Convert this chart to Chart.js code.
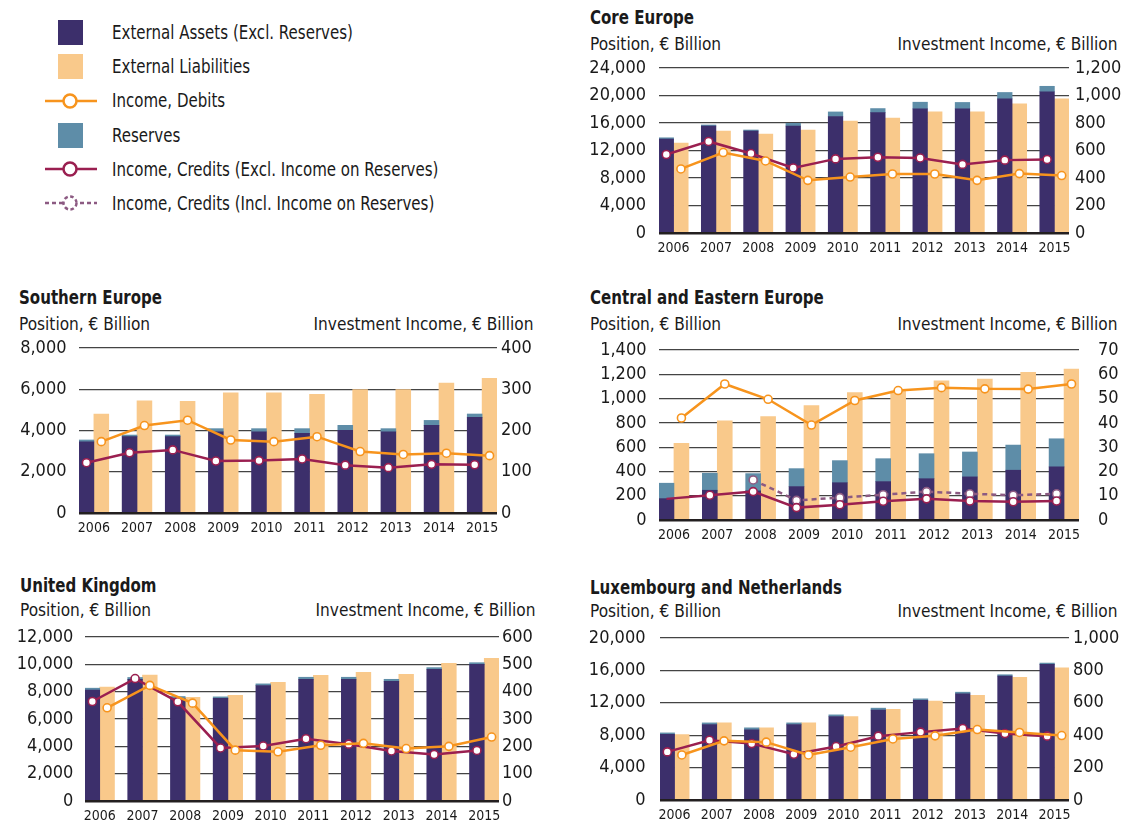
<!DOCTYPE html>
<html><head><meta charset="utf-8">
<script src="https://cdn.jsdelivr.net/npm/chart.js@4.4.1/dist/chart.umd.min.js"></script>
<style>
html,body{margin:0;padding:0;background:#fff;width:1122px;height:821px;overflow:hidden;}
body{position:relative;font-family:"DejaVu Sans Condensed","DejaVu Sans",sans-serif;color:#1a1a1a;}
.abs{position:absolute;white-space:nowrap;line-height:1;}
.title{font-weight:bold;font-size:19px;transform:scaleX(0.88);transform-origin:0 0;}
.sub{font-size:18px;transform:scaleX(0.95);transform-origin:0 0;}
.subr{font-size:18px;transform:scaleX(0.95);transform-origin:100% 0;}
.leg{font-size:19px;transform:scaleX(0.88);transform-origin:0 0;}
.sw{position:absolute;width:25px;height:25px;}
canvas{position:absolute;}
svg{position:absolute;overflow:visible;}
</style></head><body>

<div id="legend"></div>

<script>
// ---------- data ----------
const years = [2006, 2007, 2008, 2009, 2010, 2011, 2012, 2013, 2014, 2015];

// Core Europe
const coreAssets      = [13650, 15560, 14830, 15560, 16930, 17510, 18050, 18060, 19520, 20540];
const coreReserves    = [200, 150, 150, 390, 680, 590, 975, 930, 920, 800];
const coreLiabilities = [13070, 14830, 14390, 14980, 16290, 16730, 17610, 17610, 18790, 19520];
const coreDebits      = [466, 585, 524, 383, 407, 429, 429, 383, 432, 418];
const coreCredits     = [571, 666, 578, 473, 539, 551, 546, 499, 530, 535];

// Southern Europe
const southAssets      = [3450, 3700, 3700, 3940, 3940, 3860, 4010, 3940, 4250, 4640];
const southReserves    = [90, 80, 80, 150, 150, 230, 240, 150, 240, 160];
const southLiabilities = [4800, 5435, 5420, 5830, 5830, 5750, 5990, 5990, 6300, 6525];
const southDebits      = [173, 212, 225, 177, 173, 185, 149, 142, 145, 139];
const southCredits     = [122, 146, 153, 126, 127, 131, 116, 110, 118, 117];

// Central and Eastern Europe
const ceeAssets       = [176, 245, 240, 275, 307, 316, 340, 355, 410, 437];
const ceeReserves     = [127, 140, 142, 148, 182, 189, 206, 205, 207, 232];
const ceeLiabilities  = [632, 816, 851, 942, 1049, 1062, 1147, 1160, 1217, 1242];
const ceeDebits       = [42.0, 56.0, 49.7, 39.1, 49.2, 53.3, 54.5, 54.0, 53.9, 56.0];
const ceeCredits      = [8.7, 10.2, 11.7, 5.1, 6.3, 7.7, 8.7, 7.8, 7.5, 7.8];
const ceeCreditsIncl  = [null, null, 16.5, 8.1, 9.2, 10.4, 11.7, 10.8, 10.2, 10.8];

// United Kingdom
const ukAssets      = [8120, 8900, 7500, 7520, 8450, 8910, 8910, 8760, 9640, 10000];
const ukReserves    = [135, 140, 145, 100, 120, 145, 145, 145, 120, 120];
const ukLiabilities = [8330, 9210, 7590, 7740, 8690, 9200, 9420, 9270, 10080, 10440];
const ukDebits      = [341, 423, 358, 186, 180, 204, 211, 192, 200, 234];
const ukCredits     = [364, 448, 363, 194, 201, 228, 208, 183, 170, 185];

// Luxembourg and Netherlands
const luxAssets      = [8120, 9320, 8660, 9320, 10310, 11090, 12290, 13110, 15300, 16740];
const luxReserves    = [165, 200, 250, 200, 200, 250, 200, 200, 165, 165];
const luxLiabilities = [8080, 9530, 8910, 9530, 10310, 11180, 12210, 12910, 15140, 16330];
const luxDebits      = [278, 365, 357, 278, 326, 377, 396, 435, 417, 398];
const luxCredits     = [297, 369, 348, 282, 330, 394, 419, 441, 410, 394];

const POS_LABEL = 'Position, € Billion';
const INC_LABEL = 'Investment Income, € Billion';

// ---------- style ----------
const C = {assets:'#3C2F6B', liab:'#F9C98B', res:'#5E8DA8', debit:'#F7941D', credit:'#9A1F50', incl:'#8C5A82'};
const FONT = "'DejaVu Sans Condensed','DejaVu Sans',sans-serif";
Chart.defaults.font.family = FONT;
Chart.defaults.color = '#1a1a1a';

// ---------- legend ----------
const legendItems = [
  {kind:'box', color:C.assets, text:'External Assets (Excl. Reserves)'},
  {kind:'box', color:C.liab, text:'External Liabilities'},
  {kind:'line', color:C.debit, text:'Income, Debits'},
  {kind:'box', color:C.res, text:'Reserves'},
  {kind:'line', color:C.credit, text:'Income, Credits (Excl. Income on Reserves)'},
  {kind:'dash', color:C.incl, text:'Income, Credits (Incl. Income on Reserves)'}
];
const legendY = [32.3, 66.3, 100.7, 135.3, 169, 203.3];
const leg = document.getElementById('legend');
legendItems.forEach((it, i) => {
  const cy = legendY[i];
  if (it.kind === 'box') {
    const d = document.createElement('div');
    d.className = 'sw';
    d.style.left = '58px'; d.style.top = (cy - 12.5) + 'px'; d.style.background = it.color;
    leg.appendChild(d);
  } else {
    const dash = it.kind === 'dash' ? 'stroke-dasharray="4 3"' : '';
    const s = document.createElementNS('http://www.w3.org/2000/svg', 'svg');
    s.setAttribute('width', '52'); s.setAttribute('height', '20');
    s.style.left = '45px'; s.style.top = (cy - 10) + 'px';
    s.innerHTML = `<line x1="0" y1="10" x2="52" y2="10" stroke="${it.color}" stroke-width="2.5" ${dash}/>` +
      `<circle cx="25" cy="10" r="6.5" fill="#fff" stroke="${it.color}" stroke-width="2.5" ${it.kind==='dash'?'stroke-dasharray="3.5 2.5"':''}/>`;
    leg.appendChild(s);
  }
  const t = document.createElement('div');
  t.className = 'abs leg';
  t.style.left = '112px'; t.style.top = (cy - 9.5) + 'px';
  t.textContent = it.text;
  leg.appendChild(t);
});

// ---------- panels ----------
const HALF = 0.345, SHIFT = 0.1725;
function xy(vals) { return years.map((yr, i) => ({x: yr, y: vals[i]})); }
function fmt(v) { return Number(v).toLocaleString('en-US'); }

function addText(cls, text, left, top, right) {
  const d = document.createElement('div');
  d.className = 'abs ' + cls;
  d.textContent = text;
  if (right !== undefined) d.style.right = (1122 - right) + 'px'; else d.style.left = left + 'px';
  d.style.top = top + 'px';
  document.body.appendChild(d);
}

function panel(p) {
  addText('title', p.title, p.tx, p.titleTop);
  addText('sub', POS_LABEL, p.tx, p.subTop);
  addText('subr', INC_LABEL, null, p.subTop, p.subRight);

  const LW = 90, RW = 60, TP = 36, XH = 32;
  const W = p.r - p.l, H = p.b - p.t;
  const spacing = W / (years.length - 1 + 2 * HALF);
  const thick = spacing * HALF;
  const cv = document.createElement('canvas');
  cv.width = W + LW + RW; cv.height = H + TP + XH;
  cv.style.left = (p.l - LW) + 'px'; cv.style.top = (p.t - TP) + 'px';
  cv.style.width = cv.width + 'px'; cv.style.height = cv.height + 'px';
  document.body.appendChild(cv);

  const x0 = years[0] - HALF, x1 = years[years.length - 1] + HALF;
  const pt = (col, hideFirst) => ({
    pointRadius:(c) => (hideFirst && c.dataIndex === 0) ? 0 : 4,
    pointHoverRadius:4, pointBorderWidth:1.6, pointBackgroundColor:'#fff', pointBorderColor:col});
  const bar = {order:1, yAxisID:'y', grouped:false, barThickness:thick, borderWidth:0};
  const datasets = [
    Object.assign({type:'bar', label:'External Assets (Excl. Reserves)', data:xy(p.assets), backgroundColor:C.assets, stack:'a', xAxisID:'xc'}, bar),
    Object.assign({type:'bar', label:'Reserves', data:xy(p.reserves), backgroundColor:C.res, stack:'a', xAxisID:'xc'}, bar),
    Object.assign({type:'bar', label:'External Liabilities', data:xy(p.liabilities), backgroundColor:C.liab, stack:'l', xAxisID:'xd'}, bar),
    Object.assign({type:'line', label:'Income, Debits', data:xy(p.debits), borderColor:C.debit, borderWidth:2.5, order:0, xAxisID:'xd', yAxisID:'y2'}, pt(C.debit, false)),
    Object.assign({type:'line', label:'Income, Credits (Excl. Income on Reserves)', data:xy(p.credits), borderColor:C.credit, borderWidth:2.5, order:0, xAxisID:'xc', yAxisID:'y2'}, pt(C.credit, !!p.hideFirstCredit))
  ];
  if (p.creditsIncl) {
    datasets.push(Object.assign({type:'line', label:'Income, Credits (Incl. Income on Reserves)', data:xy(p.creditsIncl), borderColor:C.incl, borderWidth:2.5, borderDash:[5,4], order:0, xAxisID:'xc', yAxisID:'y2'}, pt(C.incl, false)));
  }
  const hiddenX = (shift) => ({type:'linear', display:false, offset:false, min:x0 + shift, max:x1 + shift, grid:{offset:false}});

  new Chart(cv, {
    type:'bar',
    data:{datasets},
    options:{
      responsive:false, animation:false, devicePixelRatio:1,
      layout:{padding:{top:TP, left:0, right:0, bottom:0}},
      datasets:{line:{tension:0}},
      plugins:{legend:{display:false}, tooltip:{enabled:false}},
      scales:{
        x:{type:'linear', offset:false, min:x0, max:x1,
           grid:{display:false, drawTicks:false, offset:false}, border:{display:false},
           afterBuildTicks:(s) => { s.ticks = years.map(v => ({value:v})); },
           afterFit:(s) => { s.height = XH; },
           ticks:{autoSkip:false, maxRotation:0, padding:6.6, font:{size:14}, color:'#1a1a1a', callback:(v) => String(v)}},
        xc: hiddenX(SHIFT),
        xd: hiddenX(-SHIFT),
        y:{position:'left', stacked:true, min:0, max:p.yMax,
           grid:{drawTicks:false,
                 color:(c) => (c.tick && c.tick.value === 0) ? '#231f20' : '#444',
                 lineWidth:(c) => (c.tick && c.tick.value === 0) ? 2.5 : 1.2},
           border:{display:false},
           afterFit:(s) => { s.width = LW; },
           ticks:{autoSkip:false, stepSize:p.yStep, padding:p.lGap, font:{size:18}, color:'#1a1a1a', callback:fmt}},
        y2:{position:'right', min:0, max:p.y2Max,
           grid:{display:false, drawTicks:false}, border:{display:false},
           afterFit:(s) => { s.width = RW; },
           ticks:{autoSkip:false, stepSize:p.y2Step, padding:p.rGap, font:{size:18}, color:'#1a1a1a', callback:fmt}}
      }
    }
  });
}

panel({title:'Core Europe', tx:590, titleTop:8, subTop:34.7, subRight:1117.5,
  l:659, r:1069, t:68, b:233, yMax:24000, yStep:4000, y2Max:1200, y2Step:200, lGap:13, rGap:6,
  assets:coreAssets, reserves:coreReserves, liabilities:coreLiabilities, debits:coreDebits, credits:coreCredits});

panel({title:'Southern Europe', tx:19, titleTop:288, subTop:314.6, subRight:533.5,
  l:79, r:497, t:348, b:513, yMax:8000, yStep:2000, y2Max:400, y2Step:100, lGap:12.5, rGap:4,
  assets:southAssets, reserves:southReserves, liabilities:southLiabilities, debits:southDebits, credits:southCredits});

panel({title:'Central and Eastern Europe', tx:590, titleTop:288, subTop:314.6, subRight:1117.5,
  l:659, r:1079, t:350, b:520, yMax:1400, yStep:200, y2Max:70, y2Step:10, lGap:12.5, rGap:19,
  assets:ceeAssets, reserves:ceeReserves, liabilities:ceeLiabilities, debits:ceeDebits, credits:ceeCredits, creditsIncl:ceeCreditsIncl,
  hideFirstCredit:true});

panel({title:'United Kingdom', tx:20, titleTop:575.6, subTop:601, subRight:535.3,
  l:85, r:499, t:637, b:801, yMax:12000, yStep:2000, y2Max:600, y2Step:100, lGap:11.7, rGap:3,
  assets:ukAssets, reserves:ukReserves, liabilities:ukLiabilities, debits:ukDebits, credits:ukCredits});

panel({title:'Luxembourg and Netherlands', tx:590, titleTop:577.5, subTop:601.5, subRight:1117.5,
  l:660, r:1069, t:638, b:800, yMax:20000, yStep:4000, y2Max:1000, y2Step:200, lGap:14.5, rGap:4,
  assets:luxAssets, reserves:luxReserves, liabilities:luxLiabilities, debits:luxDebits, credits:luxCredits});
</script>
</body></html>
